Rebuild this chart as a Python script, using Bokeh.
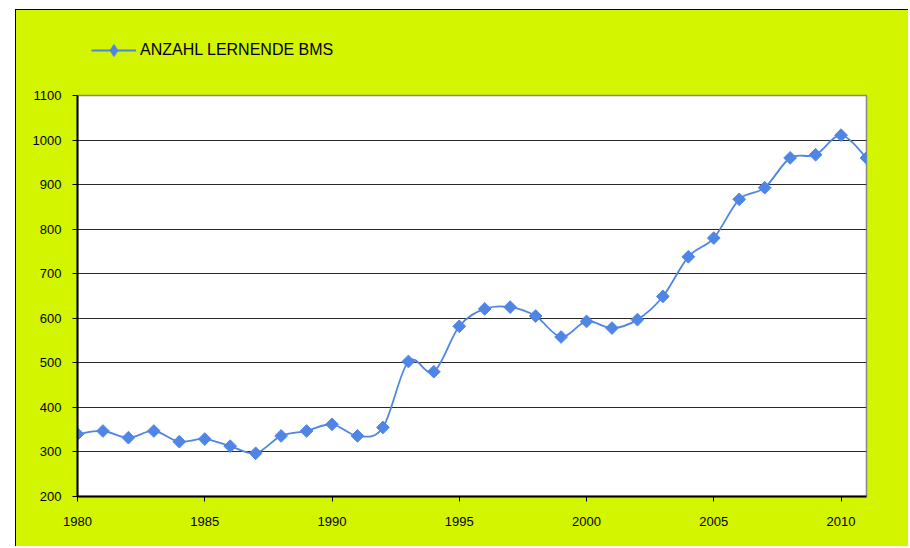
import math
from bokeh.plotting import figure
from bokeh.models import Range1d, FixedTicker, Legend, LegendItem, ColumnDataSource, Spacer
from bokeh.layouts import column, row
from bokeh.embed import file_html
from bokeh.resources import INLINE

years = list(range(1980, 2012))
lernende = [340, 347, 332, 347, 323, 329, 313, 297, 336, 347, 362, 336, 355, 503,
            480, 582, 621, 625, 605, 558, 593, 578, 597, 649, 738, 780, 867, 893,
            960, 967, 1011, 960]
series_label = "ANZAHL LERNENDE BMS"
x_ticks = [1980, 1985, 1990, 1995, 2000, 2005, 2010]
y_ticks = list(range(200, 1101, 100))

BG = "#D4F500"
BLUE = "#4F86E6"
FONT = "Liberation Sans"
LW = 1.8

# smoothed line (Catmull-Rom as cubic Bezier segments, like Excel's smoothed line)
n = len(years)
def pt(i):
    i = max(0, min(n - 1, i))
    return years[i], lernende[i]
seg = dict(x0=[], y0=[], x1=[], y1=[], cx0=[], cy0=[], cx1=[], cy1=[])
for i in range(n - 1):
    xm, ym = pt(i - 1)
    xa, ya = pt(i)
    xb, yb = pt(i + 1)
    xp, yp = pt(i + 2)
    seg["x0"].append(xa); seg["y0"].append(ya)
    seg["x1"].append(xb); seg["y1"].append(yb)
    seg["cx0"].append(xa + (xb - xm) / 6.0); seg["cy0"].append(ya + (yb - ym) / 6.0)
    seg["cx1"].append(xb - (xp - xa) / 6.0); seg["cy1"].append(yb - (yp - ya) / 6.0)

W = 893
LEG_H = 70

# ---- legend strip (own figure so the legend is not clipped) ----
lg = figure(width=W, height=LEG_H, output_backend="svg", toolbar_location=None,
            x_range=Range1d(1980, 2011), y_range=Range1d(0, 1))
lg.min_border = 0
lg.axis.visible = False
lg.grid.visible = False
lg.border_fill_color = BG
lg.background_fill_color = None
lg.outline_line_color = None
lg.styles = {"border-left": "1px solid #000", "border-top": "1px solid #000",
             "background-color": BG}
# data lie outside this strip's y range, so only the legend sample shows
l_line = lg.line(years, lernende, line_color=BLUE, line_width=LW)
l_mark = lg.scatter(years, lernende, marker="diamond", size=13,
                    fill_color=BLUE, line_color=BLUE)
legend = Legend(items=[LegendItem(label=series_label, renderers=[l_line, l_mark])],
                location=(14, 15), padding=0, margin=0, spacing=0,
                glyph_width=45, glyph_height=30, label_height=30,
                label_standoff=4, border_line_color=None,
                background_fill_alpha=0,
                label_text_font=FONT, label_text_font_size="16px",
                label_text_color="black")
lg.add_layout(legend, "center")

# ---- main chart ----
p = figure(width=W, height=537 - LEG_H, output_backend="svg", toolbar_location=None,
           x_range=Range1d(1980, 2011), y_range=Range1d(200, 1100))
p.min_border_left = 61
p.min_border_right = 43
p.min_border_top = 16
p.min_border_bottom = 50
p.border_fill_color = BG
p.background_fill_color = "white"
p.outline_line_color = "#888888"
p.outline_line_width = 1.5
p.styles = {"border-left": "1px solid #000", "background-color": BG}

p.xgrid.visible = False
p.ygrid.ticker = FixedTicker(ticks=y_ticks)
p.ygrid.grid_line_color = "#2a2a2a"
p.ygrid.grid_line_width = 1

for ax in (p.xaxis[0], p.yaxis[0]):
    ax.axis_line_color = "black"
    ax.axis_line_width = 2
    ax.major_tick_line_color = "black"
    ax.major_tick_in = 0
    ax.major_tick_out = 5
    ax.minor_tick_line_color = None
    ax.major_label_text_font = FONT
    ax.major_label_text_font_size = "13px"
    ax.major_label_text_color = "black"

p.xaxis.ticker = FixedTicker(ticks=x_ticks)
p.yaxis.ticker = FixedTicker(ticks=y_ticks)
p.xaxis.major_label_standoff = 15
p.yaxis.major_label_standoff = 11

p.bezier(source=ColumnDataSource(seg), x0="x0", y0="y0", x1="x1", y1="y1",
         cx0="cx0", cy0="cy0", cx1="cx1", cy1="cy1",
         line_color=BLUE, line_width=LW)
p.scatter(years, lernende, marker="square", size=9, angle=math.pi / 4,
          fill_color=BLUE, line_color=BLUE)

inner = column(lg, p, styles={"background-color": BG})
layout = column(Spacer(height=9), row(Spacer(width=15), inner))
open("out.html", "w").write(file_html(layout, INLINE))
